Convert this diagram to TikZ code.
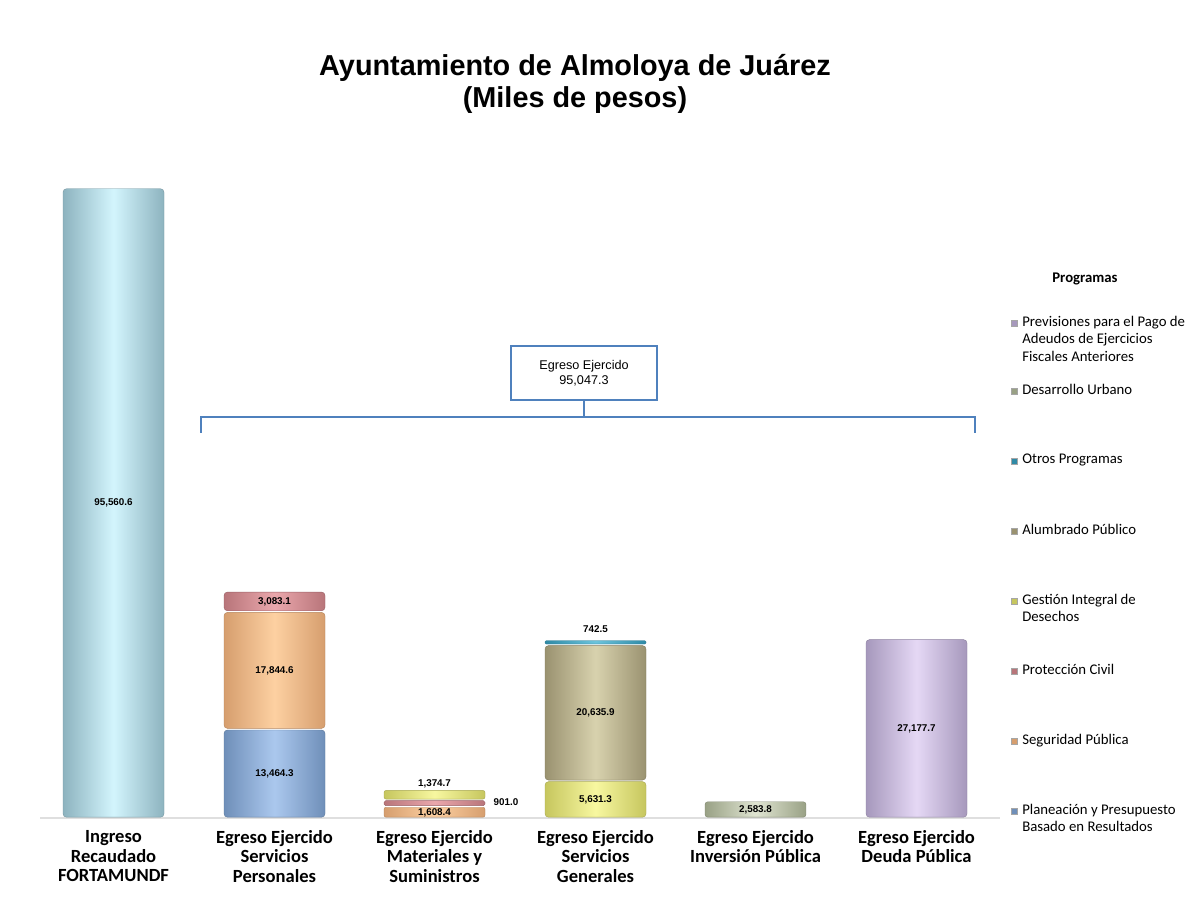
\documentclass[tikz,border=0pt]{standalone}
\usepackage{fontspec}
\setmainfont{Liberation Sans}
\newfontfamily\calibri{Carlito}
\usepackage{xcolor}
\usetikzlibrary{positioning}

% cylinder colours: E = edge, M = middle
\definecolor{cyanE}{HTML}{8DB3BF}
\definecolor{cyanM}{HTML}{D3F5FD}
\definecolor{blueE}{HTML}{6F8FB9}
\definecolor{blueM}{HTML}{ABC8EE}
\definecolor{orngE}{HTML}{D69E6E}
\definecolor{orngM}{HTML}{FDD0A2}
\definecolor{redE}{HTML}{B8757A}
\definecolor{redM}{HTML}{EAA8AC}
\definecolor{yellE}{HTML}{C6C65E}
\definecolor{yellM}{HTML}{F7F7A0}
\definecolor{tanE}{HTML}{9A9270}
\definecolor{tanM}{HTML}{D8D2AE}
\definecolor{tealE}{HTML}{2F8AA6}
\definecolor{tealM}{HTML}{6CC4DC}
\definecolor{grnE}{HTML}{99A185}
\definecolor{grnM}{HTML}{E0E5D2}
\definecolor{purpE}{HTML}{A698BC}
\definecolor{purpM}{HTML}{E5D8F5}
\definecolor{boxblue}{HTML}{4F81BD}

\tikzset{
  seg/.style={rounded corners=2.5pt, draw=#1E!85!black, line width=0.3pt,
    left color=#1E, right color=#1E, middle color=#1M},
  val/.style={font=\fontsize{7}{8}\selectfont\bfseries, inner sep=0pt},
  cat/.style={font=\calibri\bfseries\fontsize{13.2}{14}\selectfont, align=center, anchor=north, inner sep=0pt},
  leg/.style={font=\calibri\fontsize{10.5}{12.3}\selectfont, align=left, anchor=north west, inner sep=0pt},
  legsq/.style={draw=gray!70, line width=0.3pt}
}
% \cyl[options]{x}{from}{to}{colour}
\newcommand{\cyl}[5][]{\path[seg=#5,#1] (#2,#3+0.12) rectangle (#2+101,#4-0.12);}

\begin{document}
\begin{tikzpicture}[x=0.025cm,y=0.025cm]
\useasboundingbox[fill=white] (0,0) rectangle (1204,907);

\node[font=\fontsize{20.5}{22.7}\selectfont\bfseries, align=center] (title) at (575,823)
  {Ayuntamiento de Almoloya de Juárez\\(Miles de pesos)};

% base line
\draw[gray!25, line width=1.2pt] (40,89) -- (1000,89);

% bars, y in thousands of pesos
\begin{scope}[shift={(0,89)}, yscale=6.593]
\cyl{63}{0}{95.5606}{cyan}
\cyl{224}{0}{13.4643}{blue}
\cyl{224}{13.4643}{31.3089}{orng}
\cyl{224}{31.3089}{34.392}{red}
\cyl[rounded corners=1.5pt]{384}{0}{1.75}{orng}
\cyl[rounded corners=1.2pt]{384}{1.75}{2.75}{red}
\cyl[rounded corners=1.5pt]{384}{2.75}{4.3}{yell}
\cyl{545}{0}{5.6313}{yell}
\cyl{545}{5.6313}{26.2672}{tan}
\cyl[rounded corners=0.8pt]{545}{26.2672}{27.0097}{teal}
\cyl[rounded corners=2pt]{705}{0}{2.5838}{grn}
\cyl{866}{0}{27.1777}{purp}

\node[val] (v1) at (113.5,47.78) {95,560.6};
\node[val] (v2a) at (274.5,6.73) {13,464.3};
\node[val] (v2b) at (274.5,22.39) {17,844.6};
\node[val] (v2c) at (274.5,32.85) {3,083.1};
\node[val] (v3a) at (434.5,0.85) {1,608.4};
\node[val] (v3b) at (506,2.4) {901.0};
\node[val] (v3c) at (434.5,5.2) {1,374.7};
\node[val] (v4a) at (595.5,2.82) {5,631.3};
\node[val] (v4b) at (595.5,15.95) {20,635.9};
\node[val] (v4c) at (595.5,28.67) {742.5};
\node[val] (v5) at (755.5,1.29) {2,583.8};
\node[val] (v6) at (916.5,13.59) {27,177.7};
\end{scope}

% categories
\node[cat] (c1) at (113.5,77) {Ingreso\\Recaudado\\FORTAMUNDF};
\node[cat] (c2) at (274.5,77) {Egreso Ejercido\\Servicios\\Personales};
\node[cat] (c3) at (434.5,77) {Egreso Ejercido\\Materiales y\\Suministros};
\node[cat] (c4) at (595.5,77) {Egreso Ejercido\\Servicios\\Generales};
\node[cat] (c5) at (755.5,77) {Egreso Ejercido\\Inversión Pública};
\node[cat] (c6) at (916.5,77) {Egreso Ejercido\\Deuda Pública};

% total box and bracket
\node[draw=boxblue, line width=0.9pt, minimum width=3.65cm, minimum height=1.35cm,
  align=center, font=\fontsize{9}{11}\selectfont] (ee) at (584,534) {Egreso Ejercido\\95,047.3};
\coordinate (jn) at (ee.south |- 0,490);
\coordinate (bl) at (201,474);
\coordinate (br) at (975,474);
\draw[boxblue, line width=0.9pt] (ee.south) -- (jn);
\draw[boxblue, line width=0.9pt] (bl) |- (jn) -| (br);

% legend
\node[font=\calibri\bfseries\fontsize{10.5}{12}\selectfont] (lh) at (1085,628) {Programas};
\node[leg] (l1) at (1022,591) {Previsiones para el Pago de\\Adeudos de Ejercicios\\Fiscales Anteriores};
\node[leg] (l2) at (1022,523) {Desarrollo Urbano};
\node[leg] (l3) at (1022,453) {Otros Programas};
\node[leg] (l4) at (1022,383) {Alumbrado Público};
\node[leg] (l5) at (1022,313) {Gestión Integral de\\Desechos};
\node[leg] (l6) at (1022,243) {Protección Civil};
\node[leg] (l7) at (1022,173) {Seguridad Pública};
\node[leg] (l8) at (1022,103) {Planeación y Presupuesto\\Basado en Resultados};
\filldraw[legsq, fill=purpE] (1011,581) rectangle ++(6,6);
\filldraw[legsq, fill=grnE] (1011,513) rectangle ++(6,6);
\filldraw[legsq, fill=tealE] (1011,443) rectangle ++(6,6);
\filldraw[legsq, fill=tanE] (1011,373) rectangle ++(6,6);
\filldraw[legsq, fill=yellE] (1011,303) rectangle ++(6,6);
\filldraw[legsq, fill=redE] (1011,233) rectangle ++(6,6);
\filldraw[legsq, fill=orngE] (1011,163) rectangle ++(6,6);
\filldraw[legsq, fill=blueE] (1011,93) rectangle ++(6,6);
\end{tikzpicture}
\end{document}
